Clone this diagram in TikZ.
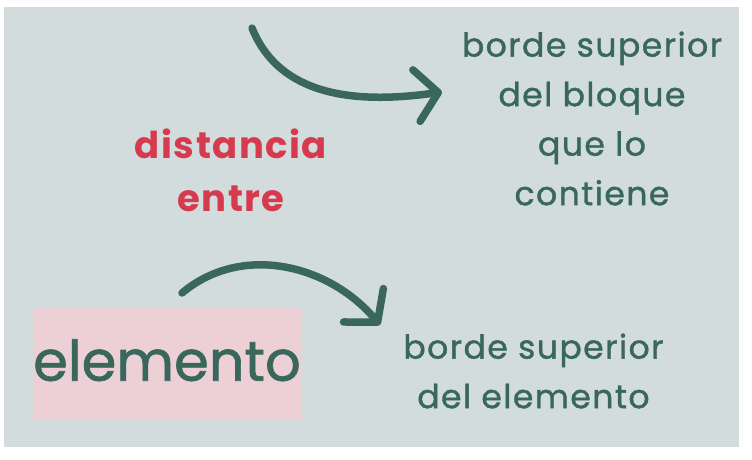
\documentclass[tikz,border=0pt]{standalone}
\usepackage{fontspec}
\setmainfont{Poppins}
\usepackage{xcolor}
\definecolor{panelgray}{RGB}{211,220,220}
\definecolor{inkgreen}{RGB}{58,103,91}
\definecolor{accentred}{RGB}{214,58,78}
\definecolor{boxpink}{RGB}{237,208,214}
\usetikzlibrary{arrows.meta, positioning}
\tikzset{
  greentext/.style={
    text=inkgreen, align=center, inner sep=0pt,
    font=\fontsize{33}{49.5}\selectfont\addfontfeatures{LetterSpace=4.5, FakeBold=1.2}
  },
  redtext/.style={
    text=accentred, align=center, inner sep=0pt,
    font=\fontsize{37}{53}\selectfont\bfseries\addfontfeatures{LetterSpace=4}
  },
  elembox/.style={
    rectangle, fill=boxpink, inner sep=0pt,
    minimum width=268pt, minimum height=112pt,
    text=inkgreen, font=\fontsize{56}{60}\selectfont\addfontfeatures{FakeBold=1.2}
  },
  curvearrow/.style={
    line width=7.5pt, draw=inkgreen, line cap=round,
    -{Straight Barb[length=22pt, width=52pt, round]}
  },
}

\begin{document}
\begin{tikzpicture}[x=1pt, y=1pt, node distance=102pt]
  \useasboundingbox (0,0) rectangle (752,459);
  \fill [white] (0,0) rectangle (752,459);
  \fill [panelgray] (4,12) rectangle (739,452);

  \node (elemento)   [elembox, text depth=8pt] at (167,95) {elemento};
  \node (bordeelem)  [greentext, right=of elemento, yshift=-7pt]
                     {borde superior\\del elemento};
  \node (distancia)  [redtext] at (231,289)         {distancia\\entre};
  \node (contenedor) [greentext] at (592,340.5)
                     {borde superior\\del bloque\\que lo\\contiene};

  \coordinate (topstart) at (252,431);
  \coordinate (toptip)   at (442,367);
  \coordinate (lowstart) at (182,166);
  \coordinate (lowtip)   at (380,134);

  \draw [curvearrow] (topstart) to[out=-68, in=188] (toptip);
  \draw [curvearrow] (lowstart) to[out=40, in=130]  (lowtip);
\end{tikzpicture}
\end{document}
